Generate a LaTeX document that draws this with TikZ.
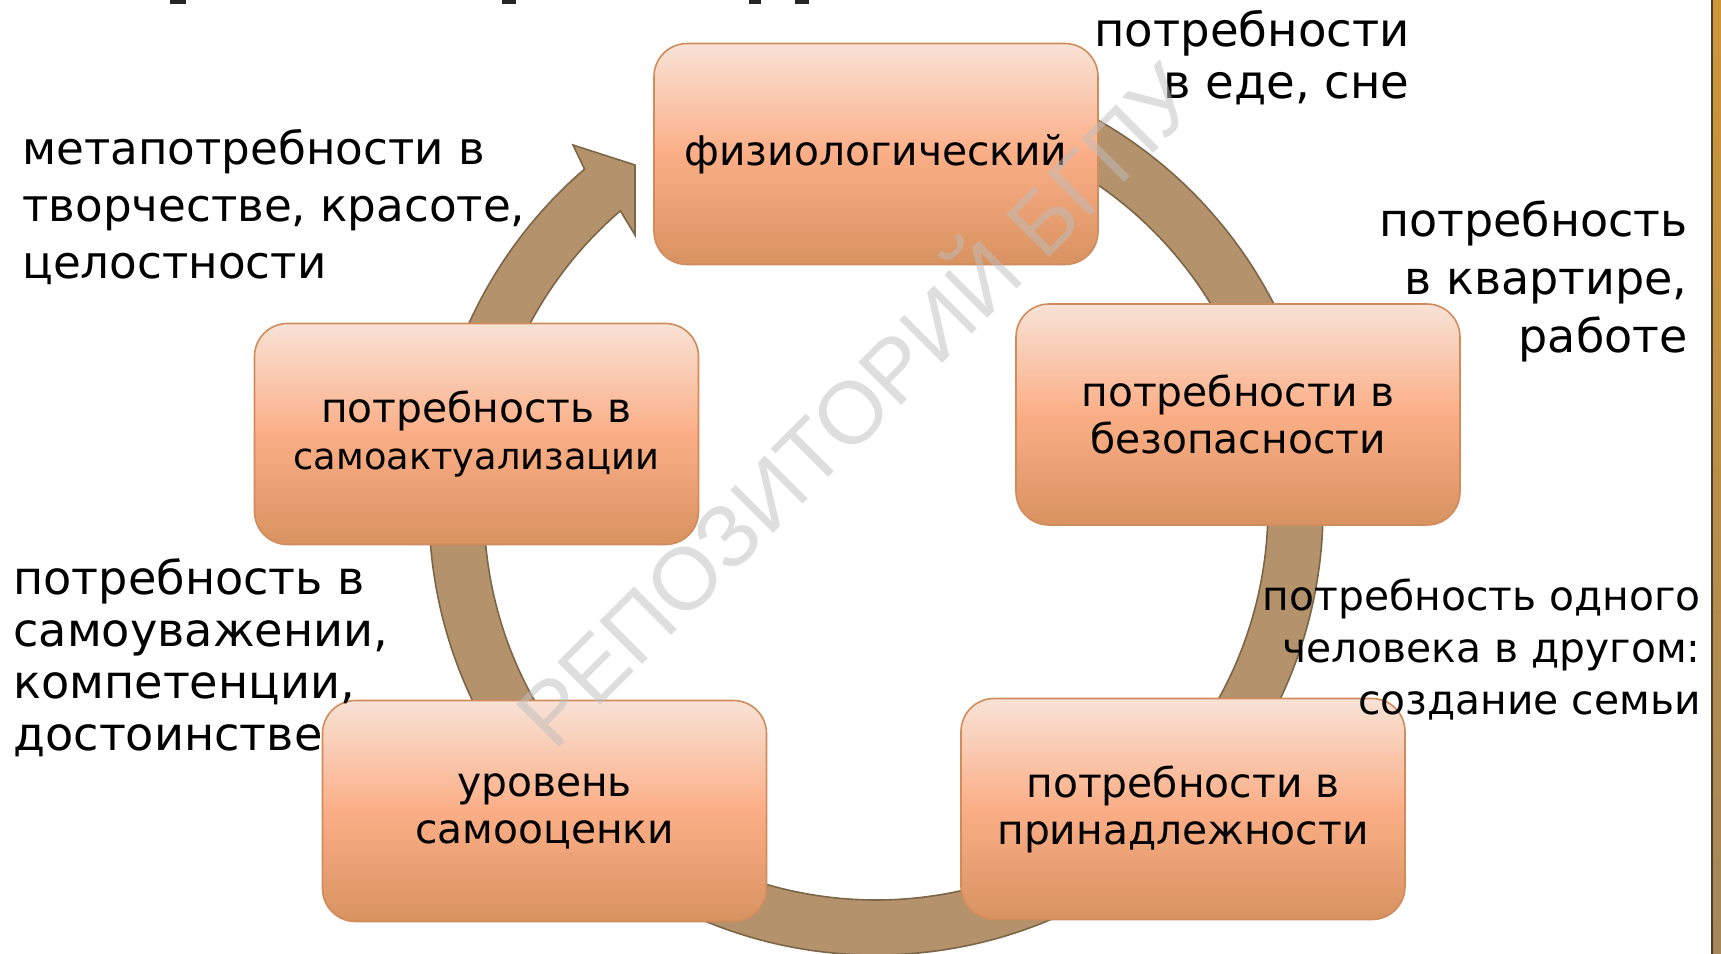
\documentclass[tikz,border=0pt]{standalone}
\usepackage{fontspec}
\setmainfont{DejaVu Sans}
\newfontfamily\wmfont{Liberation Sans}
\usetikzlibrary{calc}
\definecolor{boxtop}{RGB}{248,226,214}
\definecolor{boxmid}{RGB}{251,174,134}
\definecolor{boxbot}{RGB}{216,146,96}
\definecolor{boxedge}{RGB}{208,140,92}
\definecolor{ringfill}{RGB}{180,146,108}
\definecolor{ringedge}{RGB}{124,102,72}
\definecolor{wmgray}{RGB}{190,190,190}
\definecolor{bartop}{RGB}{205,150,55}
\definecolor{barbot}{RGB}{165,135,90}
\definecolor{bardark}{RGB}{80,62,40}
\begin{document}
\begin{tikzpicture}[x=0.5pt,y=-0.5pt,
  stagebox/.style={draw=boxedge, line width=0.8pt, rounded corners=16.5pt,
    top color=boxtop, bottom color=boxbot, middle color=boxmid,
    minimum width=222pt, minimum height=110.5pt, inner sep=0pt,
    align=center, font=\fontsize{20.4}{23.5}\selectfont},
  note/.style={inner sep=0pt},
  ring/.style={fill=ringfill, draw=ringedge, line width=0.8pt},
  cutmark/.style={fill=black!85}
]
\useasboundingbox (0,0) rectangle (1721,954);
\fill[white] (0,0) rectangle (1721,954);

% cut-off title fragments at the top edge
\fill[cutmark] (170,0) rectangle (186,4);
\fill[cutmark] (502,0) rectangle (516,4);
\fill[cutmark] (749,0) rectangle (761,4);
\fill[cutmark] (795,0) rectangle (809,4);

% circular arrow
\coordinate (c) at (876,508);
\coordinate (barbout) at (573,145);
\coordinate (tiptop) at (635,165);
\coordinate (tipbot) at (635,235);
\filldraw[ring]
  ($(c)+(-95:447)$) arc[start angle=-95, end angle=229.3, radius=447]
  -- (barbout) -- (tiptop) -- (tipbot)
  -- ($(c)+(229.3:392)$) arc[start angle=229.3, end angle=-95, radius=392] -- cycle;

% stages
\node[stagebox] (phys) at (876,154) {физиологический};
\node[stagebox] (safe) at (1238,414.5) {потребности в\\безопасности};
\node[stagebox] (belong) at (1183,809) {потребности в\\принадлежности};
\node[stagebox] (esteem) at (544.5,811) {уровень\\самооценки};
\node[stagebox] (actual) at (476.5,434) {потребность в\\{\fontsize{18.4}{22}\selectfont самоактуализации}};

% annotations (anchor = baseline of the last line)
\node[note, align=right, anchor=base east, font=\fontsize{23.3}{26}\selectfont] (n1) at (1410,98) {потребности\\в еде, сне};
\node[note, align=right, anchor=base east, font=\fontsize{23}{29}\selectfont] (n2) at (1688,352) {потребность\\в квартире,\\работе};
\node[note, align=right, anchor=base east, font=\fontsize{20.4}{26}\selectfont] (n3) at (1701,714) {потребность одного\\человека в другом:\\создание семьи};
\node[note, align=left, anchor=base west, font=\fontsize{22.6}{28.5}\selectfont] (n4) at (22,278) {метапотребности в\\творчестве, красоте,\\целостности};
\node[note, align=left, anchor=base west, font=\fontsize{23.1}{26}\selectfont] (n5) at (13,750) {потребность в\\самоуважении,\\компетенции,\\достоинстве};

% watermark
\node[rotate=45, font=\wmfont\fontsize{44}{44}\selectfont, text=wmgray, opacity=0.5] (wm) at (851,400) {РЕПОЗИТОРИЙ БГПУ};

% right edge bar
\shade[top color=bartop, bottom color=barbot] (1712,0) rectangle (1721,954);
\draw[bardark, line width=1pt] (1712,0) -- (1712,954);
\end{tikzpicture}
\end{document}
